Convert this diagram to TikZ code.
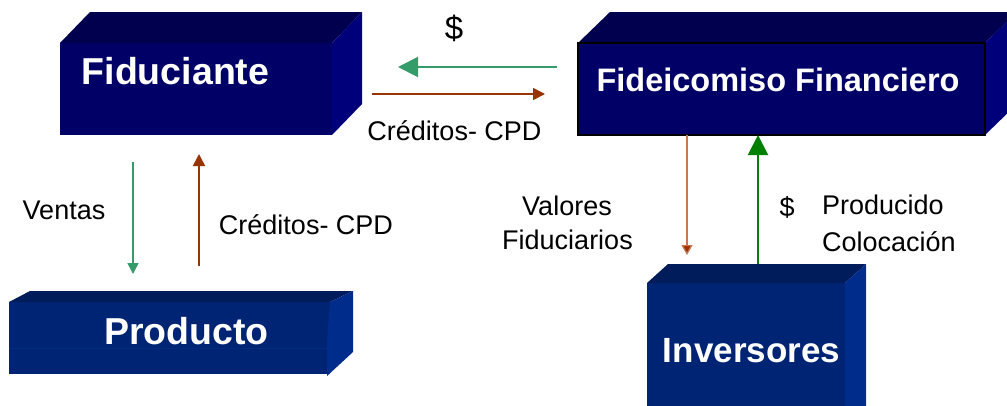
\documentclass[tikz,border=0pt]{standalone}
\usepackage{fontspec}
\setmainfont{Liberation Sans}
\usetikzlibrary{arrows.meta}
\definecolor{navyfront}{RGB}{0,0,102}
\definecolor{navytop}{RGB}{0,0,78}
\definecolor{navyside}{RGB}{0,0,122}
\definecolor{bluefront}{RGB}{0,36,116}
\definecolor{bluetop}{RGB}{0,28,90}
\definecolor{blueside}{RGB}{0,44,140}
\definecolor{blueband}{RGB}{0,44,128}
\definecolor{seagreen}{RGB}{52,156,104}
\definecolor{darkgreen}{RGB}{0,128,0}
\definecolor{rust}{RGB}{153,51,0}
\definecolor{lightrust}{RGB}{200,120,80}
\tikzset{
  frontbox/.style={inner sep=0pt, outer sep=0pt, draw=none},
  txt/.style={inner sep=0pt, outer sep=0pt, text=black, font=\fontsize{27}{36}\selectfont},
  boxtitle/.style={inner sep=0pt, outer sep=0pt, text=white, font=\bfseries\fontsize{#1}{#1}\selectfont},
  greenarrow/.style={draw=seagreen, line width=1.6pt, -{Triangle[length=#1pt,width=#1pt]}},
  brownarrow/.style={draw=rust, line width=1.6pt, -{Triangle[length=#1pt,width=#1pt]}},
}
\begin{document}
\begin{tikzpicture}[x=1pt,y=-1pt]
\useasboundingbox (0,0) rectangle (1007,405);
\clip (0,0) rectangle (1007,405);

% Fiduciante box
\node[frontbox, fill=navyfront, minimum width=272pt, minimum height=92pt] (fid) at (196,89) {};
\fill[navytop] (fid.north west) -- ++(30,-31) -- ++(272,0) -- (fid.north east) -- cycle;
\fill[navyside] (fid.north east) -- ++(30,-31) -- ++(0,92) -- (fid.south east) -- cycle;
\node[boxtitle=37.5] (fidt) at (175.5,71.5) {Fiduciante};

% Fideicomiso Financiero box
\node[frontbox, fill=navyfront, minimum width=407pt, minimum height=92pt] (fide) at (781.5,89) {};
\fill[navytop] (fide.north west) -- ++(32,-31) -- ++(407,0) -- (fide.north east) -- cycle;
\fill[navyside] (fide.north east) -- ++(32,-31) -- ++(0,92) -- (fide.south east) -- cycle;
\draw[black, line width=1.5pt] (fide.north west) rectangle (fide.south east);
\node[boxtitle=32.5] (fidet) at (778,80) {Fideicomiso Financiero};

% Producto box
\node[frontbox, fill=bluefront, minimum width=321pt, minimum height=72pt] (prod) at (169.5,338) {};
\fill[bluetop] (prod.north west) -- ++(21,-11) -- ++(323,0) -- (prod.north east) -- cycle;
\fill[blueside] (prod.north east) -- ++(23,-11) -- ++(0,61) -- ++(-26,24) -- ++(0,-36) -- cycle;
\draw[blueband, line width=0.8pt] (9,348) -- (330,348);
\node[boxtitle=37.5] (prodt) at (186.5,331.5) {Producto};

% Inversores box
\node[frontbox, fill=bluefront, minimum width=198pt, minimum height=130pt] (inv) at (746,348) {};
\fill[bluetop] (inv.north west) -- ++(21,-19) -- ++(198,0) -- (inv.north east) -- cycle;
\fill[blueside] (inv.north east) -- ++(21,-19) -- ++(0,150) -- (inv.south east) -- cycle;
\node[boxtitle=35] (invt) at (751.5,350.5) {Inversores};

% connector end points
\coordinate (a1s) at (557,67);  \coordinate (a1e) at (398,67);
\coordinate (a2s) at (372,94);  \coordinate (a2e) at (545,94);
\coordinate (a3s) at (133,162); \coordinate (a3e) at (133,274);
\coordinate (a4s) at (199,266); \coordinate (a4e) at (199,154);
\coordinate (a5s) at (687,135); \coordinate (a5e) at (687,255);
\coordinate (a6s) at (758,264); \coordinate (a6e) at (758,135);

% connectors
\draw[greenarrow=20, line width=2pt] (a1s) -- (a1e);
\draw[brownarrow=12] (a2s) -- (a2e);
\draw[greenarrow=11] (a3s) -- (a3e);
\draw[brownarrow=12] (a4s) -- (a4e);
\draw[draw=lightrust, line width=1.2pt, -{Triangle[length=10pt,width=11pt,fill=rust]}] (a5s) -- (a5e);
\draw[draw=darkgreen, line width=2pt, -{Triangle[length=20pt,width=20pt]}] (a6s) -- (a6e);

% labels
\node[txt, font=\fontsize{33}{36}\selectfont] (dol1) at (454,28) {\$};
\node[txt] (cred1) at (454.5,131) {Créditos- CPD};
\node[txt] (vent) at (64,210) {Ventas};
\node[txt] (cred2) at (306,225) {Créditos- CPD};
\node[txt] (valf) at (567,206) {Valores};
\node[txt] (valf2) at (567.5,240) {Fiduciarios};
\node[txt] (dol2) at (787,207) {\$};
\node[txt, anchor=west] (prodc) at (822,205) {Producido};
\node[txt, anchor=west] (coloc) at (822,242) {Colocación};
\end{tikzpicture}
\end{document}
